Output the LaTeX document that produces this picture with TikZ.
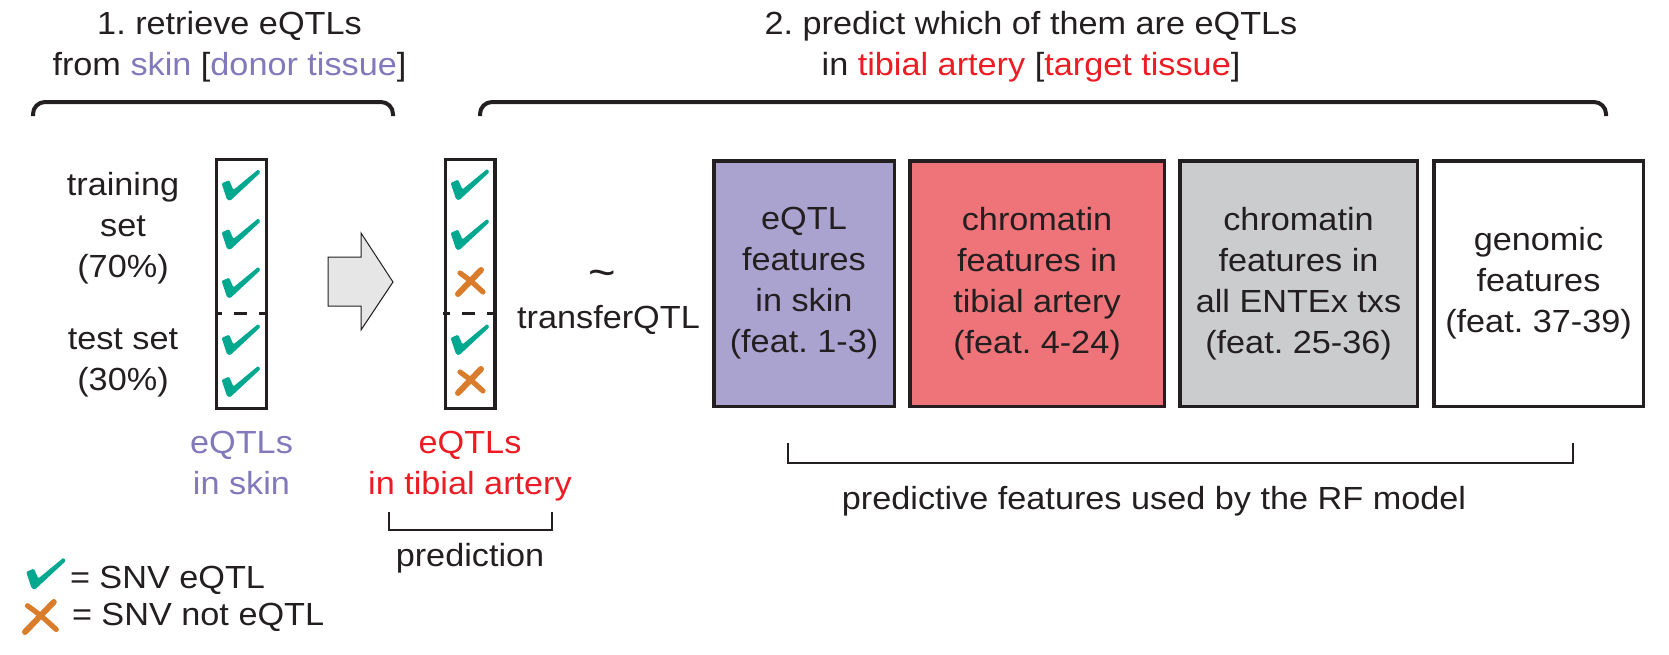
\documentclass[tikz,border=0pt]{standalone}
\usepackage{fontspec}
\setmainfont{Liberation Sans}[FakeStretch=1.07]
\frenchspacing
\definecolor{ink}{HTML}{231F20}
\definecolor{pur}{HTML}{8179BA}
\definecolor{redt}{HTML}{ED1C24}
\definecolor{tealc}{HTML}{00A88F}
\definecolor{orng}{HTML}{D97C2B}
\definecolor{boxA}{HTML}{ABA3CF}
\definecolor{boxB}{HTML}{EE7479}
\definecolor{boxC}{HTML}{CBCCCE}
\definecolor{arrowfill}{HTML}{E6E6E6}
\tikzset{
  chk/.pic={\fill[tealc, rounded corners=0.6pt] (-18,-1) -- (-11,-4) -- (-7,5) -- (16,-14) -- (18,-11) -- (-10,15) -- (-13,14) -- cycle;},
  crs/.pic={\draw[orng, line width=3pt, line cap=round] (11,-12) -- (-12,12);
            \draw[orng, line width=2.6pt, line cap=round] (-10,-9) .. controls (1,-1) .. (13,10);},
  colbox/.style={draw=ink, line width=1.65pt, minimum width=24.85pt, minimum height=124.35pt},
  featbox/.style={draw=ink, line width=1.75pt, minimum height=122.75pt, align=center},
  brace/.style={draw=ink, line width=2pt, rounded corners=6pt},
  bracket/.style={draw=ink, line width=1.3pt},
  sep/.style={draw=ink, line width=1.5pt, dash pattern=on 6.5pt off 6pt, dash phase=3pt},
}
\begin{document}
\begin{tikzpicture}[x=0.5pt,y=-0.5pt,font=\fontsize{16pt}{20.5pt}\selectfont,
  every node/.style={inner sep=0pt,outer sep=0pt,text=ink}]
\useasboundingbox (0,0) rectangle (1669,654);

% headers
\node[align=center] (h1) at (229.5,47) {1. retrieve eQTLs\\from \textcolor{pur}{skin} [\textcolor{pur}{donor tissue}]};
\node[align=center] (h2) at (1031,47) {2. predict which of them are eQTLs\\in \textcolor{redt}{tibial artery} [\textcolor{redt}{target tissue}]};
\draw[brace] (33,116) -- (33,102) -- (393,102) -- (393,116);
\draw[brace] (480,116) -- (480,102) -- (1606,102) -- (1606,116);

% left labels
\node[align=center] (train) at (123,228) {training\\set\\(70\%)};
\node[align=center] (test) at (123,362.5) {test set\\(30\%)};

% donor column
\node[colbox] (donor) at (241.5,284) {};
\draw[sep] (215,313) -- (268,313);
\foreach \yy in {184.5,233.5,282,339,381} \pic[scale=1.08] at (241,\yy) {chk};

% arrow
\draw[ink, line width=0.5pt, fill=arrowfill] (328,257) -- (361,257) -- (361,233) -- (393,282) -- (361,330) -- (361,306) -- (328,306) -- cycle;

% target column
\node[colbox] (target) at (470,284) {};
\draw[sep] (443,313) -- (497,313);
\pic[scale=1.08] at (470,184) {chk};
\pic[scale=1.08] at (470,234) {chk};
\pic at (470,282) {crs};
\pic[scale=1.08] at (470,339) {chk};
\pic at (470,381) {crs};

\node[align=center, text=pur] (lsk) at (241.5,462.5) {eQTLs\\in skin};
\node[align=center, text=redt] (lta) at (470,466) {eQTLs\\in tibial artery};
\draw[bracket] (389,512) -- (389,530) -- (552,530) -- (552,512);
\node[anchor=base] (pred) at (470,566) {prediction};

\node (tilde) at (602,279) {\fontsize{22pt}{22pt}\selectfont\textasciitilde};
\node[anchor=base] (tq) at (608.5,328) {transferQTL};

% feature boxes
\node[featbox, fill=boxA, minimum width=90.25pt] (fA) at (804,283.5) {eQTL\\features\\in skin\\(feat. 1-3)};
\node[featbox, fill=boxB, minimum width=127.25pt] (fB) at (1037,283.5) {chromatin\\features in\\tibial artery\\(feat. 4-24)};
\node[featbox, fill=boxC, minimum width=118.75pt] (fC) at (1298.5,283.5) {chromatin\\features in\\all ENTEx txs\\(feat. 25-36)};
\node[featbox, fill=white, minimum width=104.75pt] (fD) at (1538.5,283.5) {genomic\\features\\(feat. 37-39)};

\draw[bracket, line width=1.25pt] (788,443) -- (788,463) -- (1573,463) -- (1573,443);
\node[anchor=base] (rf) at (1154,509) {predictive features used by the RF model};

% legend
\pic[scale=1.1] at (46,573) {chk};
\node[anchor=base west] (l1) at (70,588) {= SNV eQTL};
\pic[scale=1.25] at (40,617) {crs};
\node[anchor=base west] (l2) at (72,625) {= SNV not eQTL};
\end{tikzpicture}
\end{document}
